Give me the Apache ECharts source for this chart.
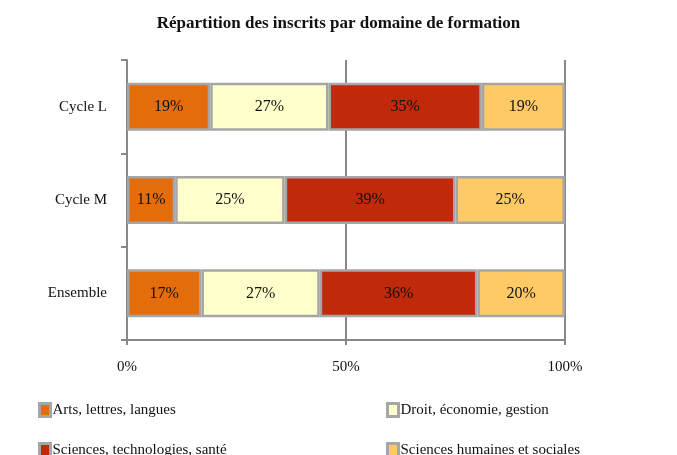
<!DOCTYPE html>
<html>
<head>
<meta charset="utf-8">
<script src="https://cdn.jsdelivr.net/npm/echarts@6/dist/echarts.min.js"></script>
<style>
  html, body { margin: 0; padding: 0; background: #fff; }
  #container { width: 677px; height: 455px; }
</style>
</head>
<body>
<div id="container"></div>
<script>
// categories, top to bottom
let categories = ['Cycle L', 'Cycle M', 'Ensemble'];
let domaines = ['Arts, lettres, langues', 'Droit, économie, gestion', 'Sciences, technologies, santé', 'Sciences humaines et sociales'];
// shares in % per category
let arts = [19, 11, 17];
let droit = [27, 25, 27];
let sciences = [35, 39, 36];
let humaines = [19, 25, 20];
let xTicks = [0, 50, 100];

let colors = ['#E46C0A', '#FFFFCC', '#C0290A', '#FFC966'];
let serif = '"Liberation Serif", "DejaVu Serif", serif';

let dom = document.getElementById('container');
let myChart = echarts.init(dom, null, { renderer: 'canvas' });

let values = [arts, droit, sciences, humaines];

let series = domaines.map(function (name, i) {
  return {
    name: name,
    type: 'bar',
    stack: 'total',
    barWidth: 48,
    data: values[i],
    itemStyle: {
      color: colors[i],
      borderColor: '#A6A6A6',
      borderWidth: 2.5
    },
    label: {
      show: true,
      position: 'inside',
      formatter: '{c}%',
      color: '#111',
      fontFamily: serif,
      fontSize: 16
    }
  };
});

// one legend per item so they sit on a 2x2 grid
let legendPos = [
  { left: 33, top: 397 },
  { left: 381, top: 397 },
  { left: 33, top: 437 },
  { left: 381, top: 437 }
];
let legends = domaines.map(function (name, i) {
  return {
    data: [name],
    left: legendPos[i].left,
    top: legendPos[i].top,
    itemWidth: 11,
    itemHeight: 13,
    itemGap: 0,
    icon: 'rect',
    selectedMode: false,
    itemStyle: { borderColor: '#A6A6A6', borderWidth: 3 },
    textStyle: { fontFamily: serif, fontSize: 15, color: '#111', padding: [0, 0, 0, -3] }
  };
});

let option = {
  animation: false,
  title: {
    text: 'Répartition des inscrits par domaine de formation',
    left: 'center',
    top: 10,
    textStyle: { fontFamily: serif, fontSize: 17, fontWeight: 'bold', color: '#111' }
  },
  legend: legends,
  grid: { left: 127, right: 112, top: 60, bottom: 115, containLabel: false },
  xAxis: {
    type: 'value',
    min: 0,
    max: 100,
    interval: 50,
    axisLine: { show: true, lineStyle: { color: '#888', width: 2 } },
    axisTick: { show: true, length: 5, lineStyle: { color: '#888', width: 2 } },
    splitLine: { show: true, lineStyle: { color: '#888', width: 2 } },
    axisLabel: {
      fontFamily: serif,
      fontSize: 15,
      color: '#111',
      margin: 20,
      formatter: function (v) { return xTicks.indexOf(v) >= 0 ? v + '%' : ''; }
    }
  },
  yAxis: {
    type: 'category',
    inverse: true,
    data: categories,
    axisLine: { show: true, lineStyle: { color: '#888', width: 2 } },
    axisTick: { show: true, length: 6, lineStyle: { color: '#888', width: 2 } },
    axisLabel: { fontFamily: serif, fontSize: 15, color: '#111', margin: 20 }
  },
  series: series
};

myChart.setOption(option);
</script>
</body>
</html>
